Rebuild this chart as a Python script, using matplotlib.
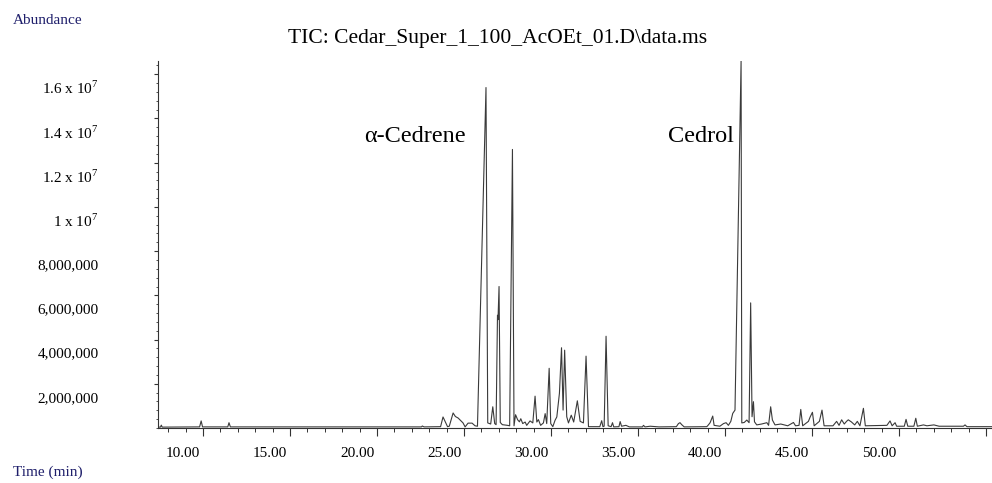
import matplotlib
matplotlib.use("Agg")
import matplotlib.pyplot as plt
import matplotlib.transforms as mtransforms
import numpy as np

plt.rcParams['font.family'] = ['Liberation Serif', 'DejaVu Serif']
plt.rcParams['mathtext.fontset'] = 'custom'
plt.rcParams['mathtext.rm'] = 'Liberation Serif'

# chromatogram: retention time (min), abundance (millions)
time_min = [7.45, 7.55, 7.6, 7.65, 9.8, 9.89, 9.97, 11.42, 11.49, 11.57,
            22.55, 22.6, 22.7, 23.65, 23.79, 24.05, 24.15, 24.37, 24.5, 24.66,
            24.94, 25.06, 25.23, 25.46, 25.63, 25.77, 26.26, 26.36, 26.53, 26.65,
            26.76, 26.84, 26.92, 26.95, 27.01, 27.08, 27.2, 27.5, 27.62, 27.78,
            27.87, 27.96, 28.08, 28.18, 28.26, 28.37, 28.51, 28.6, 28.79, 28.95,
            29.08, 29.18, 29.27, 29.4, 29.56, 29.66, 29.75, 29.89, 29.98, 30.1,
            30.23, 30.33, 30.48, 30.6, 30.69, 30.78, 30.9, 31.0, 31.16, 31.3,
            31.51, 31.67, 31.86, 32.01, 32.15, 32.8, 32.91, 32.98, 33.05, 33.16,
            33.28, 33.45, 33.53, 33.6, 33.9, 33.97, 34.05, 34.3, 34.5, 35.25,
            35.31, 35.4, 35.7, 36.2, 37.2, 37.32, 37.41, 37.51, 37.65, 38.95,
            39.04, 39.14, 39.29, 39.37, 39.7, 39.91, 40.06, 40.19, 40.33, 40.44,
            40.57, 40.92, 40.96, 41.1, 41.25, 41.38, 41.47, 41.55, 41.63, 41.69,
            41.82, 42.1, 42.4, 42.5, 42.62, 42.72, 42.87, 43.2, 43.6, 43.93,
            44.05, 44.25, 44.35, 44.46, 44.79, 44.89, 45.02, 45.12, 45.42, 45.57,
            45.69, 46.2, 46.41, 46.55, 46.7, 46.85, 46.98, 47.08, 47.25, 47.45,
            47.6, 47.75, 47.95, 48.06, 49.3, 49.48, 49.6, 49.77, 49.86, 50.3,
            50.4, 50.5, 50.85, 50.96, 51.05, 51.4, 51.6, 52.0, 52.3, 53.7,
            53.79, 53.9, 55.34]
abund_mil = [0.04, 0.04, 0.13, 0.04, 0.05, 0.32, 0.05, 0.05, 0.24, 0.05,
             0.05, 0.09, 0.05, 0.06, 0.50, 0.06, 0.08, 0.68, 0.52, 0.45,
             0.23, 0.05, 0.22, 0.22, 0.10, 0.08, 15.4, 0.23, 0.18, 0.96,
             0.20, 0.15, 5.1, 4.9, 6.4, 0.25, 0.15, 0.12, 0.10, 12.6,
             0.10, 0.60, 0.37, 0.28, 0.42, 0.20, 0.27, 0.12, 0.32, 0.23,
             1.44, 0.27, 0.38, 0.12, 0.23, 0.65, 0.20, 2.70, 0.20, 0.06,
             0.35, 0.50, 1.57, 3.63, 0.81, 3.52, 0.51, 0.23, 0.58, 0.27,
             1.23, 0.30, 0.23, 3.25, 0.06, 0.06, 0.33, 0.06, 0.08, 4.15,
             0.10, 0.06, 0.24, 0.05, 0.06, 0.29, 0.08, 0.12, 0.05, 0.05,
             0.12, 0.05, 0.08, 0.05, 0.06, 0.20, 0.24, 0.15, 0.05, 0.06,
             0.14, 0.24, 0.54, 0.12, 0.08, 0.20, 0.24, 0.12, 0.30, 0.66,
             0.81, 16.6, 0.23, 0.25, 0.36, 0.24, 5.66, 0.51, 1.19, 0.28,
             0.14, 0.18, 0.24, 0.12, 0.96, 0.36, 0.14, 0.18, 0.10, 0.25,
             0.10, 0.12, 0.84, 0.10, 0.30, 0.50, 0.71, 0.10, 0.30, 0.81,
             0.10, 0.10, 0.30, 0.12, 0.37, 0.18, 0.30, 0.37, 0.28, 0.14,
             0.30, 0.10, 0.89, 0.10, 0.12, 0.32, 0.10, 0.24, 0.08, 0.08,
             0.39, 0.08, 0.08, 0.44, 0.08, 0.14, 0.10, 0.14, 0.08, 0.08,
             0.14, 0.06, 0.06]

x_major = [10, 15, 20, 25, 30, 35, 40, 45, 50, 55]
x_labels = ["10.00", "15.00", "20.00", "25.00", "30.00", "35.00", "40.00", "45.00", "50.00", ""]
y_major = [2e6, 4e6, 6e6, 8e6, 10e6, 12e6, 14e6, 16e6]
y_labels = ["2,000,000", "4,000,000", "6,000,000", "8,000,000",
            r"1 x 10$^{7}$", r"1.2 x 10$^{7}$", r"1.4 x 10$^{7}$", r"1.6 x 10$^{7}$"]

W, H = 992, 483
fig = plt.figure(figsize=(W / 100, H / 100), dpi=100)
ax = fig.add_axes([158 / W, 1 - 428 / H, 1 - 158 / W, (428 - 61) / H])

ax.plot(time_min, np.array(abund_mil) * 1e6, color='#3a3a3a', lw=0.8)

ax.set_xlim(7.41, 55.34)
ax.set_ylim(0, 16.6e6)

for s in ['top', 'right']:
    ax.spines[s].set_visible(False)
for s in ['left', 'bottom']:
    ax.spines[s].set_color('#333333')
    ax.spines[s].set_linewidth(0.8)

ax.set_xticks(x_major)
ax.set_xticklabels(x_labels)
ax.set_xticks(np.arange(8, 56, 1), minor=True)
ax.set_yticks(y_major)
ax.set_yticklabels(y_labels)
ax.set_yticks(np.arange(0, 16.6e6, 4e5), minor=True)

ax.tick_params(axis='x', which='major', length=6, width=0.8, color='#333333',
               labelsize=11, pad=8)
ax.tick_params(axis='x', which='minor', length=3, width=0.7, color='#333333')
ax.tick_params(axis='y', which='major', length=2.8, width=0.8, color='#333333',
               labelsize=11, pad=40)
ax.tick_params(axis='y', which='minor', length=1.5, width=0.6, color='#333333')

# labels sit a little off their ticks, like the instrument software draws them
dx = mtransforms.ScaledTranslation(-0.20, 0, fig.dpi_scale_trans)
for lab in ax.get_xticklabels():
    lab.set_transform(lab.get_transform() + dx)
dy = mtransforms.ScaledTranslation(0, -0.13, fig.dpi_scale_trans)
for lab in ax.get_yticklabels():
    lab.set_transform(lab.get_transform() + dy)

navy = '#1f1f6b'
fig.text(13 / W, 1 - 20 / H, "Abundance", color=navy, fontsize=11, ha='left', va='center')
fig.text(13 / W, 1 - 472 / H, "Time (min)", color=navy, fontsize=11, ha='left', va='center')
fig.text(498 / W, 1 - 38 / H, r"TIC: Cedar_Super_1_100_AcOEt_01.D\data.ms",
         fontsize=15.5, ha='center', va='center')
fig.text(415 / W, 1 - 137 / H, "α-Cedrene", fontsize=17.5, ha='center', va='center')
fig.text(701 / W, 1 - 137 / H, "Cedrol", fontsize=17.5, ha='center', va='center')

fig.savefig("out.png", dpi=100, facecolor='white')
